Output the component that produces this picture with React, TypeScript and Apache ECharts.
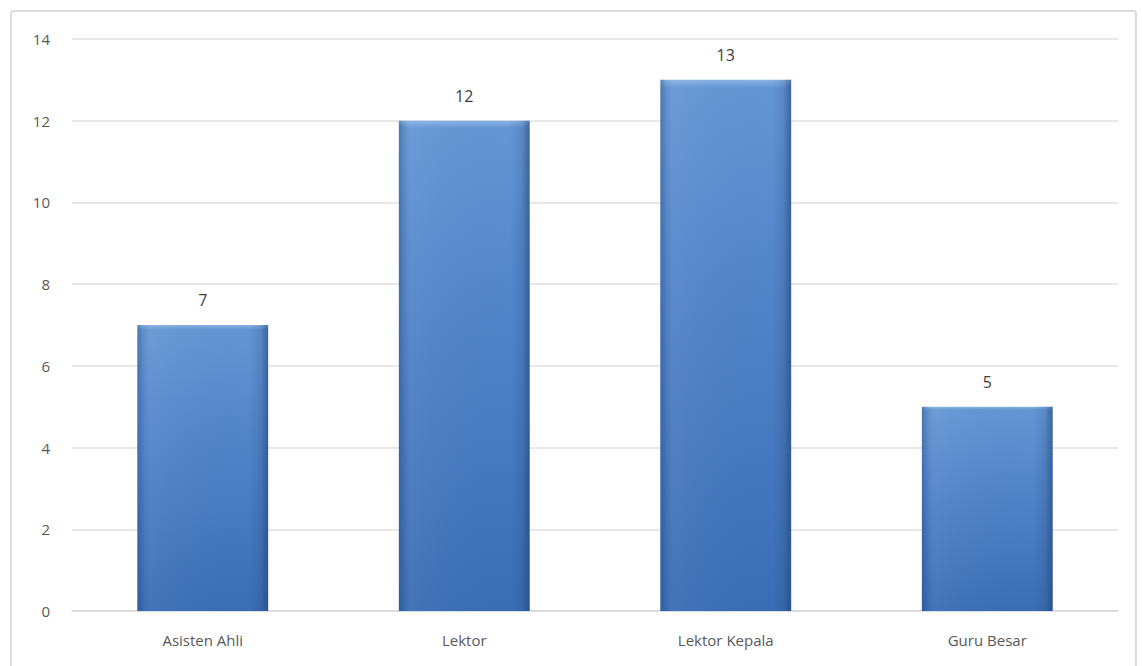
import React, { useEffect, useRef } from "react";
import * as echarts from "echarts";

const categories = ["Asisten Ahli", "Lektor", "Lektor Kepala", "Guru Besar"];
const values = [7, 12, 13, 5];
const yTicks = [0, 2, 4, 6, 8, 10, 12, 14];

export default function App() {
  const ref = useRef<HTMLDivElement>(null);
  useEffect(() => {
    if (!ref.current) return;
    const chart = echarts.init(ref.current, undefined, { renderer: "svg" });
    chart.setOption({
      animation: false,
      backgroundColor: "#ffffff",
      graphic: [
        {
          type: "rect",
          shape: { x: 11, y: 11, width: 1125, height: 680, r: 3 },
          style: { fill: "none", stroke: "#dcdcdc", lineWidth: 2 },
          silent: true,
        },
      ],
      grid: { left: 72, right: 24, top: 39, bottom: 55 },
      xAxis: {
        type: "category",
        data: categories,
        axisLine: { lineStyle: { color: "#d9d9d9", width: 1.5 } },
        axisTick: { show: false },
        axisLabel: {
          color: "#595959",
          fontSize: 15,
          fontFamily: "Open Sans",
          margin: 21,
        },
      },
      yAxis: {
        type: "value",
        min: yTicks[0],
        max: yTicks[yTicks.length - 1],
        interval: 2,
        axisLine: { show: false },
        axisTick: { show: false },
        splitLine: { lineStyle: { color: "#e0e0e0", width: 1.5 } },
        axisLabel: {
          color: "#595959",
          fontSize: 15,
          fontFamily: "Open Sans",
          margin: 22,
        },
      },
      series: [
        {
          type: "bar",
          data: values,
          barWidth: "50%",
          z: 2,
          itemStyle: {
            color: new echarts.graphic.LinearGradient(0, 0, 0, 1, [
              { offset: 0, color: "#8ab3e4" },
              { offset: 0.015, color: "#6496d3" },
              { offset: 0.3, color: "#5688cc" },
              { offset: 1, color: "#3a6db4" },
            ]),
          },
          label: {
            show: true,
            position: "top",
            distance: 17,
            color: "#404040",
            fontSize: 16,
            fontFamily: "Open Sans",
          },
        },
        {
          type: "bar",
          data: values,
          barWidth: "50%",
          barGap: "-100%",
          z: 3,
          silent: true,
          itemStyle: {
            color: new echarts.graphic.LinearGradient(1, 0, 0, 0, [
              { offset: 0, color: "rgba(30,60,110,0.55)" },
              { offset: 0.06, color: "rgba(30,60,110,0.15)" },
              { offset: 0.15, color: "rgba(30,60,110,0)" },
              { offset: 0.9, color: "rgba(255,255,255,0.05)" },
              { offset: 0.96, color: "rgba(30,60,110,0.1)" },
              { offset: 1, color: "rgba(30,60,110,0.35)" },
            ]),
          },
        },
      ],
    });
    return () => chart.dispose();
  }, []);
  return (
    <div
      ref={ref}
      style={{ position: "fixed", left: 0, top: 0, width: 1142, height: 666 }}
    />
  );
}
